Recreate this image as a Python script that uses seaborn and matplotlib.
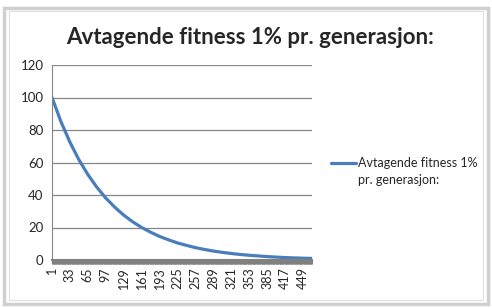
import numpy as np
import pandas as pd
import seaborn as sns
import matplotlib.pyplot as plt
from matplotlib.patches import Rectangle

# generation (category index) and fitness values
generation = [1, 17, 33, 49, 65, 81, 97, 113, 129, 145, 161, 177, 193, 209, 225,
              241, 257, 273, 289, 305, 321, 337, 353, 369, 385, 401, 417, 433, 449, 465]
fitness = [100, 85.1, 72.5, 61.7, 52.6, 44.8, 38.1, 32.5, 27.6, 23.5, 20.0, 17.1, 14.5, 12.4, 10.5,
           9.0, 7.6, 6.5, 5.5, 4.7, 4.0, 3.4, 2.9, 2.5, 2.1, 1.8, 1.5, 1.3, 1.1, 0.95]
x_labels = [1, 33, 65, 97, 129, 161, 193, 225, 257, 289, 321, 353, 385, 417, 449]
y_ticks = [0, 20, 40, 60, 80, 100, 120]
n_categories = 465
series_name = ["Avtagende fitness 1%", "pr. generasjon:"]
title = "Avtagende fitness 1% pr. generasjon:"

sns.set_style("white")
plt.rcParams['font.family'] = ['Lato', 'DejaVu Sans']

df = pd.DataFrame({"generasjon": generation, "fitness": fitness})

fig = plt.figure(figsize=(4.92, 3.08), dpi=100, facecolor="white")
# excel-like chart frame
fig.patches.append(Rectangle((4 / 492, 4 / 308), 484 / 492, 296 / 308, transform=fig.transFigure,
                             fill=False, edgecolor="#d0d0d0", linewidth=2.5))
fig.patches.append(Rectangle((9 / 492, 8 / 308), 474 / 492, 289 / 308, transform=fig.transFigure,
                             fill=False, edgecolor="#e0e0e0", linewidth=0.8))

ax = fig.add_axes([52 / 492, 1 - 260 / 308, 260 / 492, 195 / 308])
sns.lineplot(data=df, x="generasjon", y="fitness", ax=ax, color="#4a7ebb",
             linewidth=2.3, label=series_name[0])

ax.set_xlim(1, n_categories)
ax.set_ylim(0, 120)
ax.set_yticks(y_ticks)
ax.set_yticklabels([str(v) for v in y_ticks], fontsize=9.5)
ax.set_xticks(x_labels)
ax.set_xticklabels([str(v) for v in x_labels], rotation=90, fontsize=9)
ax.set_xticks(np.arange(1, n_categories + 1), minor=True)
ax.tick_params(axis="x", which="both", direction="out", length=3.2, width=0.8,
               color="#808080", bottom=True, pad=2)
ax.tick_params(axis="y", length=0, pad=6)
ax.set_xlabel("")
ax.set_ylabel("")

ax.grid(axis="y", color="#868686", linewidth=0.9)
ax.grid(axis="x", visible=False)
for side in ["top", "right"]:
    ax.spines[side].set_visible(False)
ax.spines["left"].set_color("#868686")
ax.spines["bottom"].set_color("#808080")
ax.spines["bottom"].set_linewidth(1.5)

# excel keeps the legend key level with the first line of a wrapped name
leg = ax.legend(loc="center left", bbox_to_anchor=(331 / 492, 1 - 163 / 308),
                bbox_transform=fig.transFigure, frameon=False, fontsize=9,
                handlelength=2.0, handletextpad=0.15, borderaxespad=0, borderpad=0)
fig.canvas.draw()
first = leg.get_texts()[0].get_window_extent()
x0 = fig.transFigure.inverted().transform((first.x0, 0))[0]
fig.text(x0, 1 - 180 / 308, series_name[1], ha="left", va="center", fontsize=9)

fig.text(250 / 492, 1 - 37 / 308, title, ha="center", va="center",
         fontsize=16, fontweight="bold")

fig.savefig("out.png", dpi=100, facecolor="white")
